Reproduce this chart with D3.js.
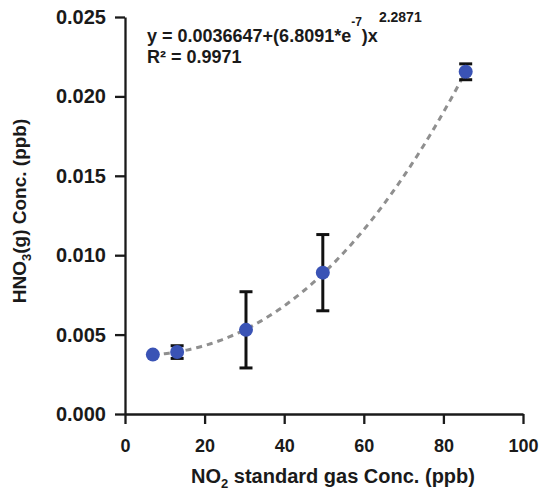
<!DOCTYPE html>
<html>
<head>
<meta charset="utf-8">
<script src="https://cdn.jsdelivr.net/npm/d3@7"></script>
<style>
  body { margin: 0; background: #fff; }
  text { font-family: "Liberation Sans", Arial, sans-serif; font-weight: bold; fill: #1a1a1a; }
</style>
</head>
<body>
<div id="chart"></div>
<script>
// Datos
const no2Conc = [7, 13.1, 30.4, 49.7, 85.6];
const hno3Conc = [0.00374, 0.0039, 0.0053, 0.0089, 0.02155];
const errores = [0, 0.0004, 0.0024, 0.0024, 0.0005];
const xTicks = [0, 20, 40, 60, 80, 100];
const yTicks = [0, 0.005, 0.010, 0.015, 0.020, 0.025];
// Coeficientes del ajuste y = a + b*x^c
const ajuste = [0.0036647, 6.8091e-7, 2.2871];

const WIDTH = 540;
const HEIGHT = 493;
const margin = { top: 17, right: 17, bottom: 79, left: 125 };

const svg = d3.select("#chart").append("svg")
    .attr("width", WIDTH)
    .attr("height", HEIGHT);

const x = d3.scaleLinear().domain([0, 100]).range([margin.left, WIDTH - margin.right]);
const y = d3.scaleLinear().domain([0, 0.025]).range([HEIGHT - margin.bottom, margin.top]);

// Ejes
svg.append("g")
    .attr("class", "x-axis")
    .attr("transform", `translate(0, ${y(0)})`)
    .call(d3.axisBottom(x).tickValues(xTicks).tickFormat(d3.format("d")).tickSize(10).tickSizeOuter(0).tickPadding(15));

svg.append("g")
    .attr("class", "y-axis")
    .attr("transform", `translate(${x(0)}, 0)`)
    .call(d3.axisLeft(y).tickValues(yTicks).tickFormat(d3.format(".3f")).tickSize(10).tickSizeOuter(0).tickPadding(9));

svg.selectAll(".domain, .tick line")
    .attr("stroke", "#1a1a1a")
    .attr("stroke-width", 2.3);

svg.selectAll(".x-axis .tick text")
    .style("font-size", "18px")
    .attr("fill", "#1a1a1a");

svg.selectAll(".y-axis .tick text")
    .style("font-size", "20px")
    .attr("fill", "#1a1a1a");

// Curva de ajuste
const f = v => ajuste[0] + ajuste[1] * Math.pow(v, ajuste[2]);
const xs = d3.range(no2Conc[0], no2Conc[no2Conc.length - 1] + 0.01, 0.5);
svg.append("path")
    .datum(xs)
    .attr("fill", "none")
    .attr("stroke", "#8f8f8f")
    .attr("stroke-width", 3)
    .attr("stroke-dasharray", "6,5")
    .attr("d", d3.line().x(d => x(d)).y(d => y(f(d))));

const puntos = no2Conc.map((d, i) => ({ x: d, y: hno3Conc[i], e: errores[i] }));

// Barras de error
const eb = svg.append("g").selectAll("g").data(puntos.filter(d => d.e > 0)).enter().append("g")
    .attr("stroke", "#111")
    .attr("stroke-width", 3);
eb.append("line")
    .attr("x1", d => x(d.x)).attr("x2", d => x(d.x))
    .attr("y1", d => y(d.y + d.e)).attr("y2", d => y(d.y - d.e));
eb.append("line")
    .attr("x1", d => x(d.x) - 6.5).attr("x2", d => x(d.x) + 6.5)
    .attr("y1", d => y(d.y + d.e)).attr("y2", d => y(d.y + d.e));
eb.append("line")
    .attr("x1", d => x(d.x) - 6.5).attr("x2", d => x(d.x) + 6.5)
    .attr("y1", d => y(d.y - d.e)).attr("y2", d => y(d.y - d.e));

// Puntos
svg.append("g").selectAll("circle").data(puntos).enter().append("circle")
    .attr("cx", d => x(d.x))
    .attr("cy", d => y(d.y))
    .attr("r", 7)
    .attr("fill", "#3a53b5");

// Ecuación
const eq = svg.append("text")
    .attr("x", 147)
    .attr("y", 42)
    .style("font-size", "18px");
eq.append("tspan").text("y = 0.0036647+(6.8091*e");
eq.append("tspan").attr("dy", -16).style("font-size", "12px").text("-7");
eq.append("tspan").attr("dy", 16).text(")x");
eq.append("tspan").attr("dx", 1).attr("dy", -20).style("font-size", "14px").text("2.2871");

svg.append("text")
    .attr("x", 147)
    .attr("y", 63)
    .style("font-size", "18px")
    .text("R² = 0.9971");

// Títulos de los ejes
const xt = svg.append("text")
    .attr("x", 333)
    .attr("y", 483)
    .attr("text-anchor", "middle")
    .style("font-size", "20px");
xt.append("tspan").text("NO");
xt.append("tspan").attr("dy", 5).style("font-size", "13px").text("2");
xt.append("tspan").attr("dy", -5).text(" standard gas Conc. (ppb)");

const yt = svg.append("text")
    .attr("transform", "translate(26, 211) rotate(-90)")
    .attr("text-anchor", "middle")
    .style("font-size", "19px");
yt.append("tspan").text("HNO");
yt.append("tspan").attr("dy", 5).style("font-size", "13px").text("3");
yt.append("tspan").attr("dy", -5).text("(g) Conc. (ppb)");
</script>
</body>
</html>
